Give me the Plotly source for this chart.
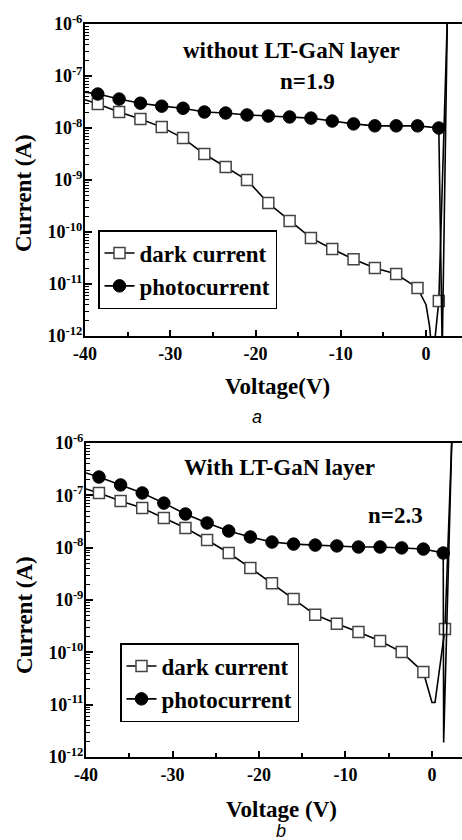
import plotly.graph_objects as go

# ---------------- data ----------------
# bias voltages of the plotted markers (V)
v_top = [-38.5, -36, -33.5, -31, -28.5, -26, -23.5, -21, -18.5, -16, -13.5, -11, -8.5, -6, -3.5, -1, 1.5]
v_bot_dark = [-38.5, -36, -33.5, -31, -28.5, -26, -23.5, -21, -18.5, -16, -13.5, -11, -8.5, -6, -3.5, -1, 1.5]
v_bot_photo = [-38.5, -36, -33.5, -31, -28.5, -26, -23.5, -21, -18.5, -16, -13.5, -11, -8.5, -6, -3.5, -1, 1.3]

# (a) without LT-GaN layer, current (A)
a_dark = [2.9e-8, 2.03e-8, 1.49e-8, 1.04e-8, 6.4e-9, 3.16e-9, 1.78e-9, 1.0e-9, 3.6e-10,
          1.63e-10, 7.7e-11, 4.7e-11, 3.0e-11, 2.03e-11, 1.55e-11, 8.4e-12, 4.7e-12]
a_photo = [4.5e-8, 3.6e-8, 3.0e-8, 2.63e-8, 2.4e-8, 2.03e-8, 1.94e-8, 1.78e-8, 1.7e-8,
           1.63e-8, 1.55e-8, 1.36e-8, 1.2e-8, 1.1e-8, 1.1e-8, 1.1e-8, 1.0e-8]

# (b) with LT-GaN layer, current (A)
b_dark = [1.11e-7, 7.8e-8, 5.7e-8, 3.7e-8, 2.38e-8, 1.4e-8, 7.9e-9, 4.1e-9, 2.1e-9,
          1.04e-9, 5.2e-10, 3.5e-10, 2.45e-10, 1.64e-10, 1.01e-10, 4.2e-11, 2.8e-10]
b_photo = [2.24e-7, 1.58e-7, 1.11e-7, 7.1e-8, 4.4e-8, 2.96e-8, 2.08e-8, 1.6e-8, 1.28e-8,
           1.17e-8, 1.12e-8, 1.08e-8, 1.03e-8, 1.03e-8, 9.9e-9, 9.4e-9, 7.9e-9]

# continuous curve points without markers: start at -40 V and the forward-bias end
a_dark_start, a_photo_start = 3.5e-8, 4.9e-8
b_dark_start, b_photo_start = 1.32e-7, 2.67e-7
a_dark_tail_v = [0.0, 0.4, 0.7, 0.9, 1.5, 2.5]
a_dark_tail_i = [4e-12, 1.6e-12, 5e-13, 5e-13, 4.7e-12, 1.3e-6]
a_photo_tail_v = [1.5, 1.9, 2.5]
a_photo_tail_i = [1.0e-8, 5e-13, 1.3e-6]
b_dark_tail_v = [0.0, 0.35, 1.5, 2.3]
b_dark_tail_i = [1.1e-11, 1.1e-11, 2.8e-10, 1.3e-6]
b_photo_tail_v = [1.3, 1.35, 2.3]
b_photo_tail_i = [7.9e-9, 1.9e-12, 1.3e-6]

x_tick_vals = [-40, -30, -20, -10, 0]
x_tick_text = ["-40", "-30", "-20", "-10", "0"]
y_exponents = [-12, -11, -10, -9, -8, -7, -6]

# ---------------- figure ----------------
W, H = 462, 840
SERIF = "Liberation Serif, Times New Roman, serif"


def px(x):
    return x / W


def py(y):
    return 1 - y / H


fig = go.Figure()


def add_series(xa, ya, line_v, line_i, mk_v, mk_i, kind, name, legend):
    if kind == "dark":
        mk = dict(symbol="square", size=11, color="white", line=dict(color="#444444", width=1.5))
    else:
        mk = dict(symbol="circle", size=12.5, color="black", line=dict(color="black", width=1))
    ln = dict(color="black", width=1.6)
    fig.add_trace(go.Scatter(x=line_v, y=line_i, mode="lines", line=ln, xaxis=xa, yaxis=ya,
                             showlegend=False, hoverinfo="skip"))
    fig.add_trace(go.Scatter(x=mk_v, y=mk_i, mode="markers", marker=mk, xaxis=xa, yaxis=ya,
                             showlegend=False, cliponaxis=True))
    fig.add_trace(go.Scatter(x=[None], y=[None], mode="lines+markers", line=ln, marker=mk,
                             name=name, legend=legend, xaxis=xa, yaxis=ya))


# panel a
add_series("x", "y", [-40] + v_top[:-1] + a_dark_tail_v, [a_dark_start] + a_dark[:-1] + a_dark_tail_i,
           v_top, a_dark, "dark", "dark current", "legend")
add_series("x", "y", [-40] + v_top[:-1] + a_photo_tail_v, [a_photo_start] + a_photo[:-1] + a_photo_tail_i,
           v_top, a_photo, "photo", "photocurrent", "legend")
# panel b
add_series("x2", "y2", [-40] + v_bot_dark[:-1] + b_dark_tail_v, [b_dark_start] + b_dark[:-1] + b_dark_tail_i,
           v_bot_dark, b_dark, "dark", "dark current", "legend2")
add_series("x2", "y2", [-40] + v_bot_photo[:-1] + b_photo_tail_v, [b_photo_start] + b_photo[:-1] + b_photo_tail_i,
           v_bot_photo, b_photo, "photo", "photocurrent", "legend2")

tickfont = dict(family=SERIF, size=18, color="black", weight="bold")
minor_y = [k * 10.0 ** e for e in y_exponents[:-1] for k in range(2, 10)]


def xaxis_cfg(domain_y_anchor, rng, left):
    return dict(anchor=domain_y_anchor, domain=[px(left), 1.0], range=rng,
                tickmode="array", tickvals=x_tick_vals, ticktext=x_tick_text,
                ticks="inside", ticklen=6, tickwidth=2, tickcolor="black",
                showline=True, linewidth=2, linecolor="black", mirror=True,
                showgrid=False, zeroline=False, automargin=False,
                minor=dict(tick0=0, dtick=5, ticks="inside", ticklen=4, tickwidth=1.5,
                           tickcolor="black", showgrid=False),
                tickfont=tickfont)


def yaxis_cfg(x_anchor, dom):
    return dict(anchor=x_anchor, domain=dom, type="log", range=[-12, -6],
                tickmode="array", tickvals=[10.0 ** e for e in y_exponents],
                ticktext=[f"10<sup>{e}</sup>" for e in y_exponents],
                ticks="inside", ticklen=7, tickwidth=2, tickcolor="black",
                ticklabelstandoff=-3,
                showline=True, linewidth=2, linecolor="black", mirror=False,
                showgrid=False, zeroline=False, automargin=False,
                minor=dict(tickmode="array", tickvals=minor_y, ticks="inside", ticklen=4,
                           tickwidth=1, tickcolor="black", showgrid=False),
                tickfont=tickfont)


legend_font = dict(family=SERIF, size=23, color="black", weight="bold")

fig.update_layout(
    width=W, height=H, margin=dict(l=0, r=0, t=0, b=0),
    paper_bgcolor="white", plot_bgcolor="white",
    xaxis=xaxis_cfg("y", [-40, 4.22], 85),
    yaxis=yaxis_cfg("x", [py(336), py(24)]),
    xaxis2=xaxis_cfg("y2", [-40, 3.47], 86),
    yaxis2=yaxis_cfg("x2", [py(757), py(443)]),
    legend=dict(x=px(98), y=py(230), xanchor="left", yanchor="top", bgcolor="white",
                bordercolor="black", borderwidth=1.5, font=legend_font, tracegroupgap=0),
    legend2=dict(x=px(120), y=py(643), xanchor="left", yanchor="top", bgcolor="white",
                 bordercolor="black", borderwidth=1.5, font=legend_font, tracegroupgap=0),
    showlegend=True,
)

bold23 = dict(family=SERIF, size=23, color="black", weight="bold")
italic_sans = dict(family="Liberation Sans, Arial, sans-serif", size=18, color="black")
texts = [
    ("without LT-GaN layer", 291, 50, bold23, 0),
    ("n=1.9", 307, 82, bold23, 0),
    ("With LT-GaN layer", 279, 467, bold23, 0),
    ("n=2.3", 395, 515, bold23, 0),
    ("Voltage(V)", 277, 387, bold23, 0),
    ("Voltage (V)", 281, 809, bold23, 0),
    ("Current (A)", 24, 193, bold23, -90),
    ("Current (A)", 24, 615, bold23, -90),
    ("<i>a</i>", 257, 417, italic_sans, 0),
    ("<i>b</i>", 281, 831, italic_sans, 0),
]
for txt, x, y, f, ang in texts:
    fig.add_annotation(text=txt, x=px(x), y=py(y), xref="paper", yref="paper",
                       xanchor="center", yanchor="middle", showarrow=False, font=f, textangle=ang)

fig.write_html("out.html", config={"displayModeBar": False},
               post_script="document.body.style.margin='0px';document.body.style.overflow='hidden';")
